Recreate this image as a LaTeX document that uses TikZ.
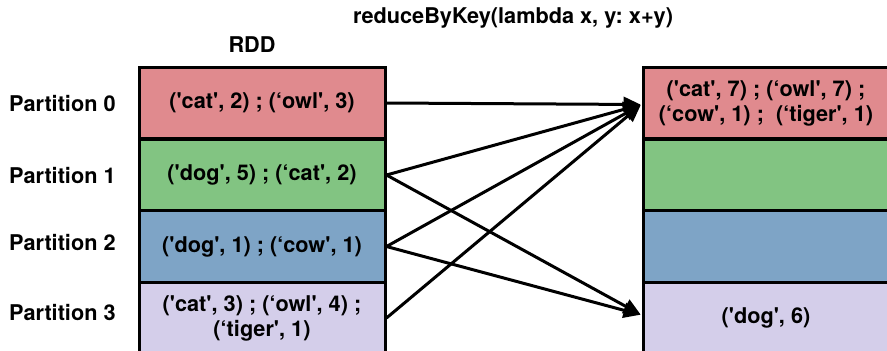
\documentclass[tikz,border=0pt]{standalone}
\usepackage{fontspec}
\setmainfont{TeX Gyre Heros}
\usetikzlibrary{arrows.meta}
\newcommand{\sq}{\textquotesingle}
\definecolor{partred}{HTML}{E08A8E}
\definecolor{partgreen}{HTML}{82C482}
\definecolor{partblue}{HTML}{7EA4C6}
\definecolor{partlilac}{HTML}{D4CEEA}
\frenchspacing
\begin{document}
\begin{tikzpicture}[x=1pt,y=-1pt,
  every node/.style={font=\fontsize{21.7}{25}\selectfont\bfseries, inner sep=0pt, align=center},
  cell/.style={draw=black, line width=3pt, minimum width=246pt, minimum height=71.5pt},
  flow/.style={line width=3pt, -{Triangle[length=17pt,width=15pt]}, shorten >=1pt}]
\useasboundingbox (0,0) rectangle (887,351);
\clip (0,0) rectangle (887,351);

% headings
\node (title) at (513,18) {reduceByKey(lambda x, y: x+y)};
\node (rdd) at (252,45) {RDD};

% partition labels
\node[anchor=west] (lab0) at (9,104) {Partition 0};
\node[anchor=west] (lab1) at (9,176) {Partition 1};
\node[anchor=west] (lab2) at (9,243) {Partition 2};
\node[anchor=west] (lab3) at (9,313) {Partition 3};

% source partitions
\node[cell, fill=partred]   (s0) at (262,103)   {(\sq cat\sq, 2) ; (‘owl\sq, 3)};
\node[cell, fill=partgreen] (s1) at (262,175)   {(\sq dog\sq, 5) ; (‘cat\sq, 2)};
\node[cell, fill=partblue]  (s2) at (262,246.5) {(\sq dog\sq, 1) ; (‘cow\sq, 1)};
\node[cell, fill=partlilac] (s3) at (262,318)   {(\sq cat\sq, 3) ; (‘owl\sq, 4) ;\\(‘tiger\sq, 1)};

% result partitions
\node[cell, fill=partred]   (r0) at (766,103)   {(\sq cat\sq, 7) ; (‘owl\sq, 7) ;\\(‘cow\sq, 1) ;\ \ (‘tiger\sq, 1)};
\node[cell, fill=partgreen] (r1) at (766,175)   {};
\node[cell, fill=partblue]  (r2) at (766,246.5) {};
\node[cell, fill=partlilac] (r3) at (766,318)   {(\sq dog\sq, 6)};

% shuffle
\coordinate (t0) at ([yshift=-1.5pt]r0.west);
\coordinate (t3) at ([yshift=3pt]r3.west);
\draw[flow] (s0.east) -- (t0);
\draw[flow] (s1.east) -- (t0);
\draw[flow] (s1.east) -- (t3);
\draw[flow] (s2.east) -- (t0);
\draw[flow] (s2.east) -- (t3);
\draw[flow] (s3.east) -- (t0);
\end{tikzpicture}
\end{document}
